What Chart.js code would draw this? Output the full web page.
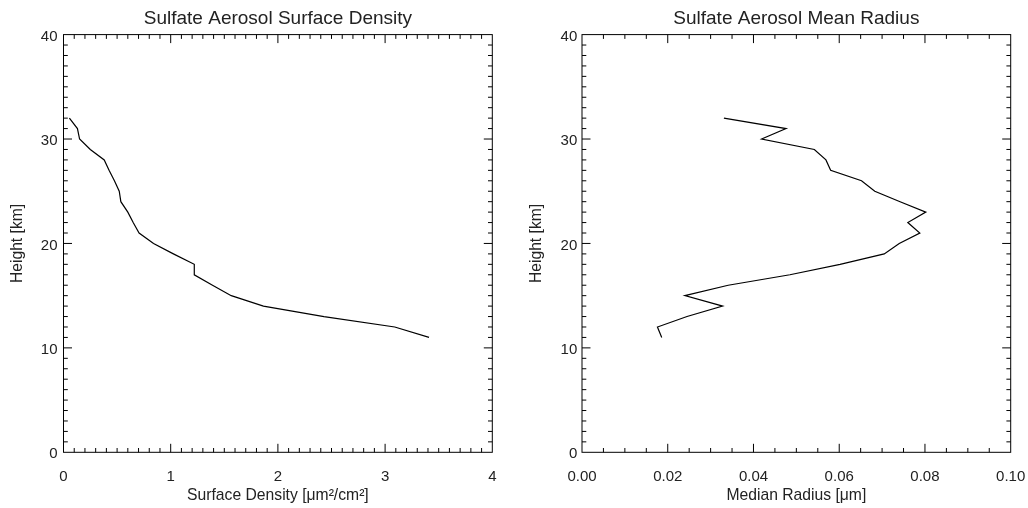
<!DOCTYPE html>
<html>
<head>
<meta charset="utf-8">
<script src="https://cdn.jsdelivr.net/npm/chart.js"></script>
<style>
  html, body { margin: 0; padding: 0; background: #fff; overflow: hidden; }
  .panel { position: absolute; top: 0; width: 514px; height: 508px; }
  #leftPanel { left: 0; }
  #rightPanel { left: 514px; }
</style>
</head>
<body>
<div class="panel" id="leftPanel"><canvas id="densityChart"></canvas></div>
<div class="panel" id="rightPanel"><canvas id="radiusChart"></canvas></div>
<script>
// --- Data (height in km) ---
const heights = [32, 31, 30, 29, 28, 27, 26, 25, 24, 23, 22, 21, 20, 19, 18, 17, 16, 15, 14, 13, 12, 11];
const surfaceDensity = [0.055, 0.13, 0.15, 0.25, 0.38, 0.425, 0.475, 0.52, 0.535, 0.60, 0.65, 0.705,
                        0.84, 1.025, 1.22, 1.22, 1.39, 1.565, 1.865, 2.43, 3.09, 3.41];
const medianRadius = [0.0331, 0.0476, 0.0419, 0.0542, 0.0569, 0.0580, 0.0652, 0.0683, 0.0742, 0.0802, 0.0760,
                      0.0788, 0.0740, 0.0705, 0.0602, 0.0485, 0.0341, 0.0240, 0.0328, 0.0245, 0.0176, 0.0186];

// Axis ranges / tick steps
const heightRange = [0, 40];
const heightStep = 10;
const heightMinor = 1;
const densityRange = [0, 4];
const densityStep = 1;
const densityMinor = 0.1;
const radiusRange = [0, 0.1];
const radiusStep = 0.02;
const radiusMinor = 0.005;

const FONT = "'Liberation Sans', Helvetica, Arial, sans-serif";
const TEXT = '#222';

// --- IDL-style frame with inward ticks on all four sides ---
const framePlugin = {
    id: 'idlFrame',
    afterDraw(chart, args, opts) {
        const { ctx, chartArea: a } = chart;
        const xs = chart.scales.x, ys = chart.scales.y;
        ctx.save();
        ctx.strokeStyle = '#000';
        ctx.lineWidth = 1;
        ctx.strokeRect(a.left, a.top, a.right - a.left, a.bottom - a.top);
        ctx.beginPath();
        const near = (v, step) => Math.abs(v / step - Math.round(v / step)) < 1e-6;
        // x ticks
        const nx = Math.round((xs.max - xs.min) / opts.xMinor);
        for (let i = 1; i < nx; i++) {
            const v = xs.min + i * opts.xMinor;
            const p = xs.getPixelForValue(v);
            const len = near(v, opts.xMajor) ? 8.5 : 4.3;
            ctx.moveTo(p, a.bottom); ctx.lineTo(p, a.bottom - len);
            ctx.moveTo(p, a.top); ctx.lineTo(p, a.top + len);
        }
        // y ticks
        const ny = Math.round((ys.max - ys.min) / opts.yMinor);
        for (let i = 1; i < ny; i++) {
            const v = ys.min + i * opts.yMinor;
            const p = ys.getPixelForValue(v);
            const len = near(v, opts.yMajor) ? 8.5 : 4.3;
            ctx.moveTo(a.left, p); ctx.lineTo(a.left + len, p);
            ctx.moveTo(a.right, p); ctx.lineTo(a.right - len, p);
        }
        ctx.stroke();
        ctx.restore();
    }
};

function makeProfile(canvasId, cfg) {
    const points = cfg.values.map((v, i) => ({ x: v, y: heights[i] }));
    return new Chart(document.getElementById(canvasId), {
        type: 'line',
        data: {
            datasets: [{
                data: points,
                borderColor: '#000',
                borderWidth: 1.2,
                pointRadius: 0,
                tension: 0,
                fill: false
            }]
        },
        options: {
            responsive: true,
            maintainAspectRatio: false,
            animation: false,
            layout: { padding: { left: 0, top: 0, bottom: 0, right: cfg.rightPad } },
            plugins: {
                legend: { display: false },
                tooltip: { enabled: false },
                title: {
                    display: true,
                    text: cfg.title,
                    fullSize: false,
                    color: TEXT,
                    font: { family: FONT, size: 19, weight: 'normal' },
                    padding: { top: 7.2, bottom: 4.6 }
                },
                idlFrame: { xMinor: cfg.xMinor, xMajor: cfg.xStep, yMinor: heightMinor, yMajor: heightStep }
            },
            scales: {
                x: {
                    type: 'linear',
                    min: cfg.xRange[0],
                    max: cfg.xRange[1],
                    grid: { display: false, drawTicks: false, tickLength: 0 },
                    border: { display: false },
                    ticks: {
                        stepSize: cfg.xStep,
                        padding: 15.4,
                        color: TEXT,
                        maxRotation: 0,
                        font: { family: FONT, size: 15 },
                        callback: cfg.xFormat
                    },
                    title: {
                        display: true,
                        text: cfg.xTitle,
                        color: TEXT,
                        font: { family: FONT, size: 15.7 },
                        padding: { top: 0, bottom: 2.6 }
                    },
                    afterFit: s => {
                        s.height = 55.7;
                        s.paddingLeft = 0;
                        s.paddingRight = 0;
                    }
                },
                y: {
                    type: 'linear',
                    min: heightRange[0],
                    max: heightRange[1],
                    grid: { display: false, drawTicks: false, tickLength: 0 },
                    border: { display: false },
                    ticks: {
                        stepSize: heightStep,
                        padding: cfg.yTickPad,
                        labelOffset: 2,
                        color: TEXT,
                        font: { family: FONT, size: 15 }
                    },
                    title: {
                        display: true,
                        text: 'Height [km]',
                        color: TEXT,
                        font: { family: FONT, size: 15.7 },
                        padding: { top: cfg.yTitlePad, bottom: 0 }
                    },
                    afterFit: s => {
                        s.width = cfg.plotLeft;
                        s.paddingTop = 0;
                        s.paddingBottom = 0;
                    }
                }
            }
        },
        plugins: [framePlugin]
    });
}

makeProfile('densityChart', {
    title: 'Sulfate Aerosol Surface Density',
    values: surfaceDensity,
    xRange: densityRange,
    xStep: densityStep,
    xMinor: densityMinor,
    xTitle: 'Surface Density [\u03BCm\u00B2/cm\u00B2]',
    xFormat: v => String(v),
    plotLeft: 63.5,
    rightPad: 21.7,
    yTickPad: 6,
    yTitlePad: 8.1
});

makeProfile('radiusChart', {
    title: 'Sulfate Aerosol Mean Radius',
    values: medianRadius,
    xRange: radiusRange,
    xStep: radiusStep,
    xMinor: radiusMinor,
    xTitle: 'Median Radius [\u03BCm]',
    xFormat: v => v.toFixed(2),
    plotLeft: 68,
    rightPad: 17.3,
    yTickPad: 4.7,
    yTitlePad: 13.6
});
</script>
</body>
</html>
